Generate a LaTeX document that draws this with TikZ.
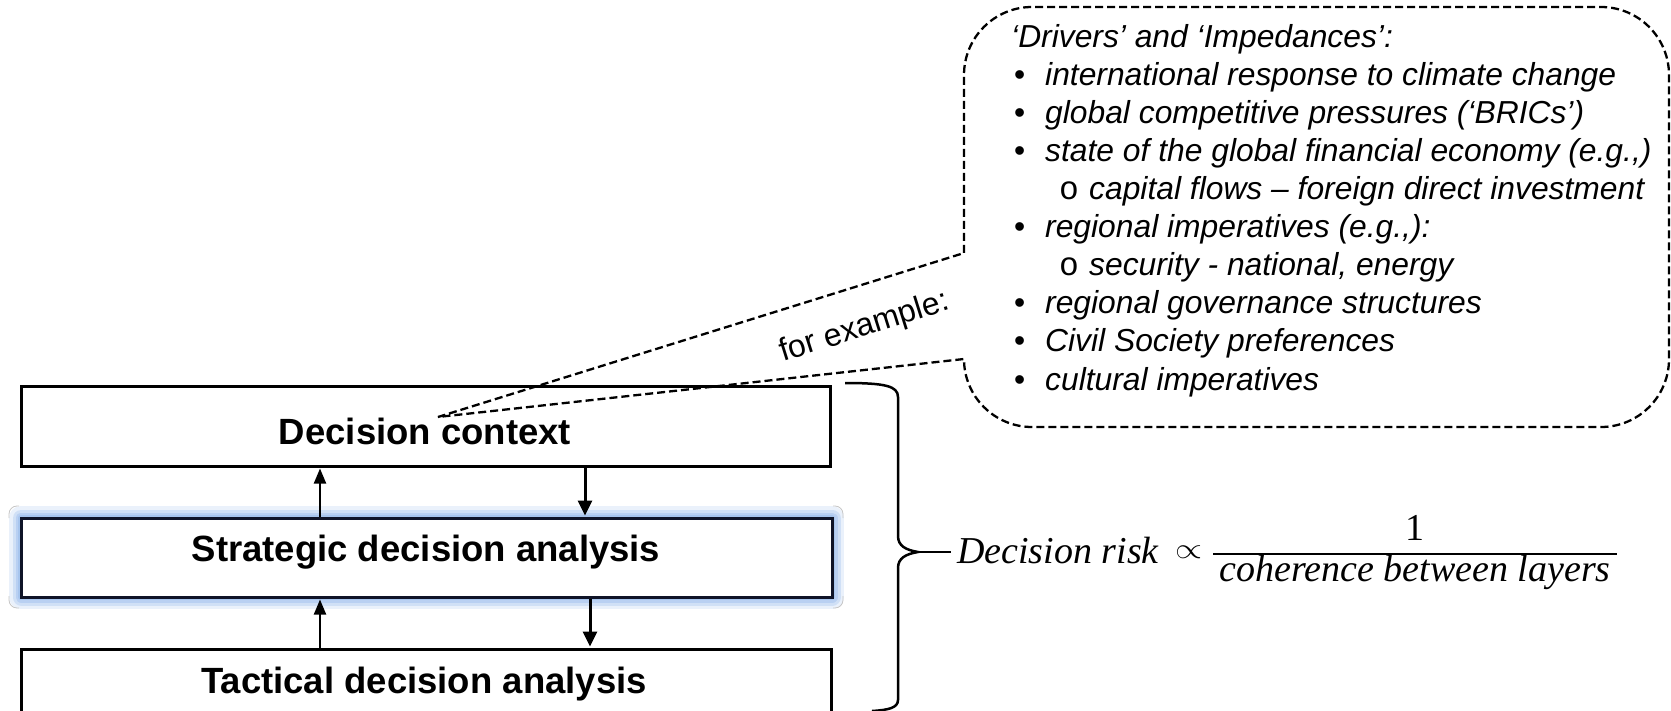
\documentclass[tikz,border=0pt]{standalone}
\usepackage{fontspec}
\usepackage{graphicx}
\setmainfont{Liberation Sans}
\newfontfamily\tms{Liberation Serif}
\newfontfamily\mono{Liberation Mono}
\usetikzlibrary{arrows.meta}
\definecolor{glowc}{RGB}{150,185,235}
\definecolor{navy}{RGB}{15,20,40}
\begin{document}
\begin{tikzpicture}[x=1pt,y=-1pt,
  box/.style={draw=black,line width=3pt,fill=white,inner sep=0pt},
  lbl/.style={font=\fontsize{36.5}{40}\selectfont\bfseries,inner sep=0pt,anchor=base},
  uparr/.style={line width=2pt,-{Triangle[length=15pt,width=12pt]}},
  dnarr/.style={line width=3pt,-{Triangle[length=15pt,width=14pt]}},
  callout/.style={line width=2.3pt,dash pattern=on 8pt off 4pt},
  ln/.style={anchor=base west,inner sep=0pt,font=\fontsize{31.8}{38}\selectfont\itshape},
  mth/.style={inner sep=0pt,font=\tms\fontsize{38}{44}\selectfont},
  handle/.style={draw=gray!45,line width=0.8pt,rounded corners=8pt},
  bracec/.style={line width=2.5pt}
]
\useasboundingbox (0,0) rectangle (1671,711);
\clip (0,0) rectangle (1671,711);

% boxes
\node[box,minimum width=809pt,minimum height=80pt] (ctx) at (425.5,426) {};
\node[box,draw=navy,minimum width=811pt,minimum height=79pt,
  preaction={draw=glowc,line width=24pt,opacity=0.2,line join=round},
  preaction={draw=glowc,line width=17pt,opacity=0.3,line join=round},
  preaction={draw=glowc,line width=11pt,opacity=0.4,line join=round},
  preaction={draw=glowc,line width=6pt,opacity=0.5,line join=round}] (str) at (426.5,557.5) {};
\node[box,minimum width=810pt,minimum height=102pt] (tac) at (426,700) {};

% selection handles
\draw[handle] (9,518) |- (19,506);
\draw[handle] (9,596) |- (19,608);
\draw[handle] (833,506) -| (843,518);
\draw[handle] (833,608) -| (843,596);

% labels
\node[lbl] (lctx) at (425,444) {Decision context};
\node[lbl] (lstr) at (426,561) {Strategic decision analysis};
\node[lbl] (ltac) at (424,693) {Tactical decision analysis};

% arrows
\coordinate (ux) at (320,0);
\coordinate (dx1) at (585,0);
\coordinate (dx2) at (590,0);
\draw[uparr] (str.north -| ux) -- ([yshift=-1pt]ctx.south -| ux);
\draw[dnarr] (ctx.south -| dx1) -- ([yshift=1pt]str.north -| dx1);
\draw[uparr] (tac.north -| ux) -- ([yshift=-1pt]str.south -| ux);
\draw[dnarr] (str.south -| dx2) -- ([yshift=1pt]tac.north -| dx2);

% callout
\coordinate (tip) at (438,417);
\coordinate (j1) at (964,253);
\draw[callout] (j1) -- (964,75) arc[start angle=180,end angle=270,radius=68]
  -- (1601,7) arc[start angle=270,end angle=360,radius=68]
  -- (1669,359) arc[start angle=0,end angle=90,radius=68]
  -- (1032,427) arc[start angle=90,end angle=180,radius=68]
  -- (tip) -- cycle;

\node[font=\fontsize{32}{36}\selectfont,anchor=base west,inner sep=0pt,rotate=17.5] (fex) at (783,362) {for example:};

% list
\newcommand\bul{\makebox[32pt][l]{\hspace{1pt}\upshape\textbullet}}
\newcommand\subb{\makebox[76pt][l]{\hspace{46pt}\upshape\mono\fontsize{33}{33}\selectfont o}}
\node[ln] (d0) at (1011,48) {‘Drivers’ and ‘Impedances’:};
\node[ln] (d1) at (1013,86) {\bul international response to climate change};
\node[ln] (d2) at (1013,124) {\bul global competitive pressures (‘BRICs’)};
\node[ln] (d3) at (1013,162) {\bul state of the global financial economy (e.g.,)};
\node[ln] (d4) at (1013,200) {\subb capital flows – foreign direct investment};
\node[ln] (d5) at (1013,238) {\bul regional imperatives (e.g.,):};
\node[ln] (d6) at (1013,276) {\subb security - national, energy};
\node[ln] (d7) at (1013,314) {\bul regional governance structures};
\node[ln] (d8) at (1013,352) {\bul Civil Society preferences};
\node[ln] (d9) at (1013,390) {\bul cultural imperatives};

% brace
\draw[bracec] (845,383) .. controls (885,383) and (898,386) .. (898,397)
  -- (898,536) .. controls (898,546) and (906,550) .. (918,552)
  .. controls (906,554) and (898,558) .. (898,568)
  -- (898,700) .. controls (898,708) and (888,710) .. (872,711);
\coordinate (btip) at (918,552);
\coordinate (bend) at (951,552);
\draw[bracec] (btip) -- (bend);

% formula
\node[mth,anchor=base west] (risk) at (957,563) {\itshape Decision risk};
\node[inner sep=0pt,anchor=center] (prop) at (1188.5,552) {\resizebox{27pt}{12.5pt}{$\propto$}};
\node[mth,anchor=base] (num) at (1415,540) {1};
\node[mth,anchor=base] (den) at (1415,581) {\itshape coherence between layers};
\coordinate (barl) at (1213,554);
\coordinate (barr) at (1617,554);
\draw[line width=1.8pt] (barl) -- (barr);
\end{tikzpicture}
\end{document}
